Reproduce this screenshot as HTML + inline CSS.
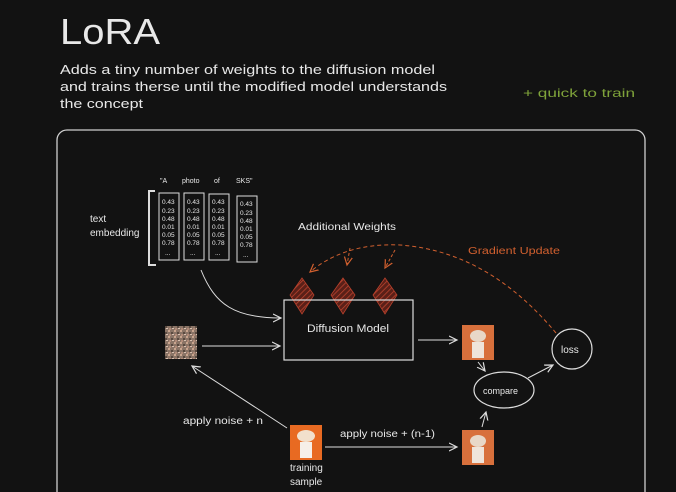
<!DOCTYPE html>
<html><head><meta charset="utf-8"><style>
html,body{margin:0;padding:0;background:#121212;}
svg{display:block}
text{font-family:"Liberation Sans",sans-serif;fill:#e8e8e8}
</style></head><body>
<svg width="676" height="492" viewBox="0 0 676 492" xmlns="http://www.w3.org/2000/svg">
<defs>
<pattern id="hatch" width="4" height="4" patternUnits="userSpaceOnUse" patternTransform="rotate(45)">
<rect width="4" height="4" fill="#5a2018"/><line x1="0" y1="0" x2="0" y2="4" stroke="#c0452f" stroke-width="1.5"/>
</pattern>
<pattern id="noise" width="6" height="6" patternUnits="userSpaceOnUse">
<rect width="6" height="6" fill="#8a7466"/><rect x="0" y="0" width="2" height="2" fill="#c9a58e"/><rect x="3" y="2" width="2" height="2" fill="#5a4a40"/><rect x="1" y="4" width="2" height="2" fill="#b08a78"/><rect x="4" y="4" width="2" height="1" fill="#d9c0b0"/>
</pattern>
<marker id="ah" markerWidth="10" markerHeight="10" refX="8" refY="5" orient="auto" markerUnits="userSpaceOnUse"><path d="M0,1 L8,5 L0,9" fill="none" stroke="#ddd" stroke-width="1.2"/></marker>
<marker id="oh" markerWidth="10" markerHeight="10" refX="8" refY="5" orient="auto" markerUnits="userSpaceOnUse"><path d="M0,1 L8,5 L0,9" fill="none" stroke="#d2602f" stroke-width="1.2"/></marker>
</defs>
<rect width="676" height="492" fill="#121212"/>
<text x="60" y="44" font-size="36" fill="#f2f2f2" textLength="100" lengthAdjust="spacingAndGlyphs">LoRA</text>
<text x="60" y="74" font-size="13" textLength="375" lengthAdjust="spacingAndGlyphs">Adds a tiny number of weights to the diffusion model</text>
<text x="60" y="91" font-size="13" textLength="387" lengthAdjust="spacingAndGlyphs">and trains therse until the modified model understands</text>
<text x="60" y="108" font-size="13" textLength="83" lengthAdjust="spacingAndGlyphs">the concept</text>
<text x="523" y="97" font-size="12" style="fill:#7fa33a" textLength="112" lengthAdjust="spacingAndGlyphs">+ quick to train</text>
<rect x="57" y="130" width="588" height="380" rx="10" fill="none" stroke="#cfcfcf" stroke-width="1.3"/>
<text x="90" y="222" font-size="10">text</text>
<text x="90" y="236" font-size="10">embedding</text>
<text x="160" y="183" font-size="7">"A</text><text x="182" y="183" font-size="7">photo</text><text x="214" y="183" font-size="7">of</text><text x="236" y="183" font-size="7">SKS"</text>
<path d="M155,191 L149,191 L149,265 L156,265" fill="none" stroke="#ddd" stroke-width="2"/>
<g fill="none" stroke="#ddd" stroke-width="1">
<rect x="159" y="193" width="20" height="67"/><rect x="184" y="193" width="20" height="67"/><rect x="209" y="194" width="20" height="66"/><rect x="237" y="196" width="20" height="66"/>
</g>
<g font-size="6.5">
<text x="162" y="204">0.43</text><text x="162" y="213">0.23</text><text x="162" y="221">0.48</text><text x="162" y="229">0.01</text><text x="162" y="237">0.05</text><text x="162" y="245">0.78</text><text x="165" y="255">...</text>
<text x="187" y="204">0.43</text><text x="187" y="213">0.23</text><text x="187" y="221">0.48</text><text x="187" y="229">0.01</text><text x="187" y="237">0.05</text><text x="187" y="245">0.78</text><text x="190" y="255">...</text>
<text x="212" y="204">0.43</text><text x="212" y="213">0.23</text><text x="212" y="221">0.48</text><text x="212" y="229">0.01</text><text x="212" y="237">0.05</text><text x="212" y="245">0.78</text><text x="215" y="255">...</text>
<text x="240" y="206">0.43</text><text x="240" y="215">0.23</text><text x="240" y="223">0.48</text><text x="240" y="231">0.01</text><text x="240" y="239">0.05</text><text x="240" y="247">0.78</text><text x="243" y="257">...</text>
</g>
<text x="298" y="230" font-size="10" textLength="98" lengthAdjust="spacingAndGlyphs">Additional Weights</text>
<text x="468" y="254" font-size="10" style="fill:#d2602f" textLength="92" lengthAdjust="spacingAndGlyphs">Gradient Update</text>
<path d="M556,333 C520,290 470,250 400,245 C360,243 330,255 310,272" fill="none" stroke="#d2602f" stroke-width="1" stroke-dasharray="4,3" marker-end="url(#oh)"/>
<path d="M350,248 L347,265" fill="none" stroke="#d2602f" stroke-width="1" stroke-dasharray="3,2" marker-end="url(#oh)"/>
<path d="M395,250 L385,268" fill="none" stroke="#d2602f" stroke-width="1" stroke-dasharray="3,2" marker-end="url(#oh)"/>
<g fill="url(#hatch)" stroke="#b8412c" stroke-width="0.8">
<path d="M302,278 L314,295 L302,314 L290,295Z"/><path d="M343,278 L355,295 L343,314 L331,295Z"/><path d="M385,278 L397,295 L385,314 L373,295Z"/>
</g>
<rect x="284" y="300" width="129" height="60" fill="none" stroke="#ddd" stroke-width="1.2"/>
<text x="307" y="332" font-size="11" textLength="82" lengthAdjust="spacingAndGlyphs">Diffusion Model</text>
<path d="M201,270 C215,305 235,318 281,318" fill="none" stroke="#ddd" stroke-width="1" marker-end="url(#ah)"/>
<rect x="165" y="326" width="32" height="33" fill="url(#noise)"/>
<line x1="202" y1="346" x2="280" y2="346" stroke="#ddd" stroke-width="1" marker-end="url(#ah)"/>
<line x1="418" y1="340" x2="457" y2="340" stroke="#ddd" stroke-width="1" marker-end="url(#ah)"/>
<g>
<rect x="462" y="325" width="32" height="35" fill="#d8703c"/><ellipse cx="478" cy="336" rx="8" ry="6" fill="#e8d8c8"/><rect x="472" y="342" width="12" height="16" fill="#efe4da"/>
<rect x="290" y="425" width="32" height="35" fill="#e86a22"/><ellipse cx="306" cy="436" rx="9" ry="6" fill="#f2e0cc"/><rect x="300" y="442" width="12" height="16" fill="#f6efe8"/>
<rect x="462" y="430" width="32" height="35" fill="#d8703c"/><ellipse cx="478" cy="441" rx="8" ry="6" fill="#e8d8c8"/><rect x="472" y="447" width="12" height="16" fill="#efe4da"/>
</g>
<ellipse cx="572" cy="349" rx="20" ry="20" fill="none" stroke="#ddd" stroke-width="1.2"/>
<text x="561" y="353" font-size="10">loss</text>
<ellipse cx="504" cy="390" rx="30" ry="18" fill="none" stroke="#ddd" stroke-width="1.2"/>
<text x="483" y="394" font-size="9">compare</text>
<line x1="478" y1="362" x2="485" y2="371" stroke="#ddd" stroke-width="1" marker-end="url(#ah)"/>
<line x1="482" y1="427" x2="486" y2="412" stroke="#ddd" stroke-width="1" marker-end="url(#ah)"/>
<line x1="528" y1="378" x2="553" y2="365" stroke="#ddd" stroke-width="1" marker-end="url(#ah)"/>
<line x1="325" y1="447" x2="457" y2="447" stroke="#ddd" stroke-width="1" marker-end="url(#ah)"/>
<line x1="287" y1="428" x2="192" y2="366" stroke="#ddd" stroke-width="1" marker-end="url(#ah)"/>
<text x="340" y="437" font-size="10" textLength="95" lengthAdjust="spacingAndGlyphs">apply noise + (n-1)</text>
<text x="183" y="424" font-size="10" textLength="80" lengthAdjust="spacingAndGlyphs">apply noise + n</text>
<text x="290" y="471" font-size="10">training</text>
<text x="290" y="485" font-size="10">sample</text>
</svg>
</body></html>
